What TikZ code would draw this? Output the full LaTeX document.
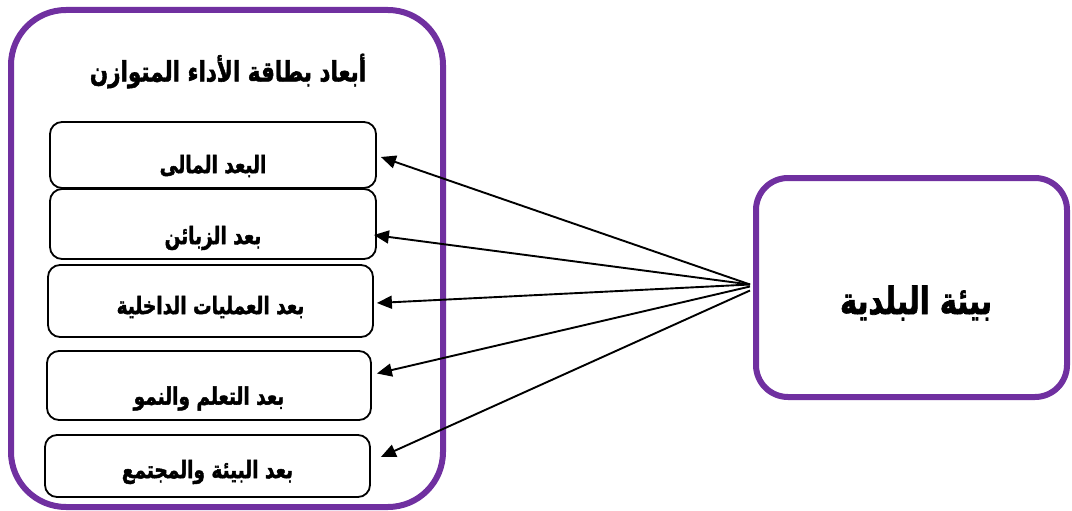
\documentclass[tikz,border=0pt]{standalone}
\usepackage{fontspec}
\usepackage{graphicx}
\usetikzlibrary{arrows.meta}
\newfontfamily\arabicfont[Script=Arabic, BoldFeatures={FakeBold=2}]{DejaVu Sans}
\TeXXeTstate=1
\definecolor{framepurple}{HTML}{7030A0}
% right-to-left text, stretched a little upwards
\newcommand{\artext}[1]{\scalebox{1}[1.3]{\beginR #1\endR}}

\begin{document}
\begin{tikzpicture}[x=1pt,y=-1pt,
  panel/.style={draw=framepurple, line width=6pt, inner sep=0pt},
  dimbox/.style={draw, line width=1.8pt, rounded corners=12pt, inner sep=0pt},
  lbl/.style={font=\arabicfont\bfseries\fontsize{18.5}{22}\selectfont, inner sep=0pt},
  conn/.style={line width=1.9pt, -{Triangle[length=15pt,width=13pt]}}]
\useasboundingbox (0,0) rectangle (1072,511);

% outer frame with the five dimensions
\node[panel, rounded corners=55pt, minimum width=432pt, minimum height=497pt] (outer) at (227,258.5) {};
\node[lbl, font=\arabicfont\bfseries\fontsize{21.5}{25}\selectfont] (title) at (228,71) {\artext{أبعاد بطاقة الأداء المتوازن}};

\node[dimbox, minimum width=326pt, minimum height=66pt] (b1) at (213,155) {};
\node[dimbox, minimum width=326pt, minimum height=70pt] (b2) at (213,224) {};
\node[dimbox, minimum width=325pt, minimum height=72pt] (b3) at (210.5,301) {};
\node[dimbox, minimum width=324pt, minimum height=69pt] (b4) at (209,385.5) {};
\node[dimbox, minimum width=325pt, minimum height=62pt] (b5) at (207.5,466) {};

\node[lbl] (t1) at ([yshift=-11pt]b1.center) {\artext{البعد المالى}};
\node[lbl] (t2) at ([yshift=-14pt]b2.center) {\artext{بعد الزبائن}};
\node[lbl] (t3) at ([yshift=-6pt]b3.center) {\artext{بعد العمليات الداخلية}};
\node[lbl] (t4) at ([yshift=-13pt]b4.center) {\artext{بعد التعلم والنمو}};
\node[lbl] (t5) at ([yshift=-6pt]b5.center) {\artext{بعد البيئة والمجتمع}};

% municipality environment
\node[panel, rounded corners=32pt, minimum width=311pt, minimum height=219pt] (env) at (911.5,287.5) {};
\node[lbl, font=\arabicfont\bfseries\fontsize{29}{34}\selectfont] (envt) at (916,303) {\artext{بيئة البلدية}};

\coordinate (hub) at ([xshift=-3pt,yshift=3pt]env.west);

\draw[conn] (hub) -- ([xshift=4pt,yshift=-2pt]b1.east);
\draw[conn] (hub) -- ([xshift=-3pt,yshift=-11pt]b2.east);
\draw[conn] (hub) -- ([xshift=3pt,yshift=-2pt]b3.east);
\draw[conn] ([yshift=-2pt]hub) -- ([xshift=5pt,yshift=12pt]b4.east);
\draw[conn] ([yshift=-6pt]hub) -- ([xshift=10pt,yshift=9pt]b5.east);
\end{tikzpicture}
\end{document}
